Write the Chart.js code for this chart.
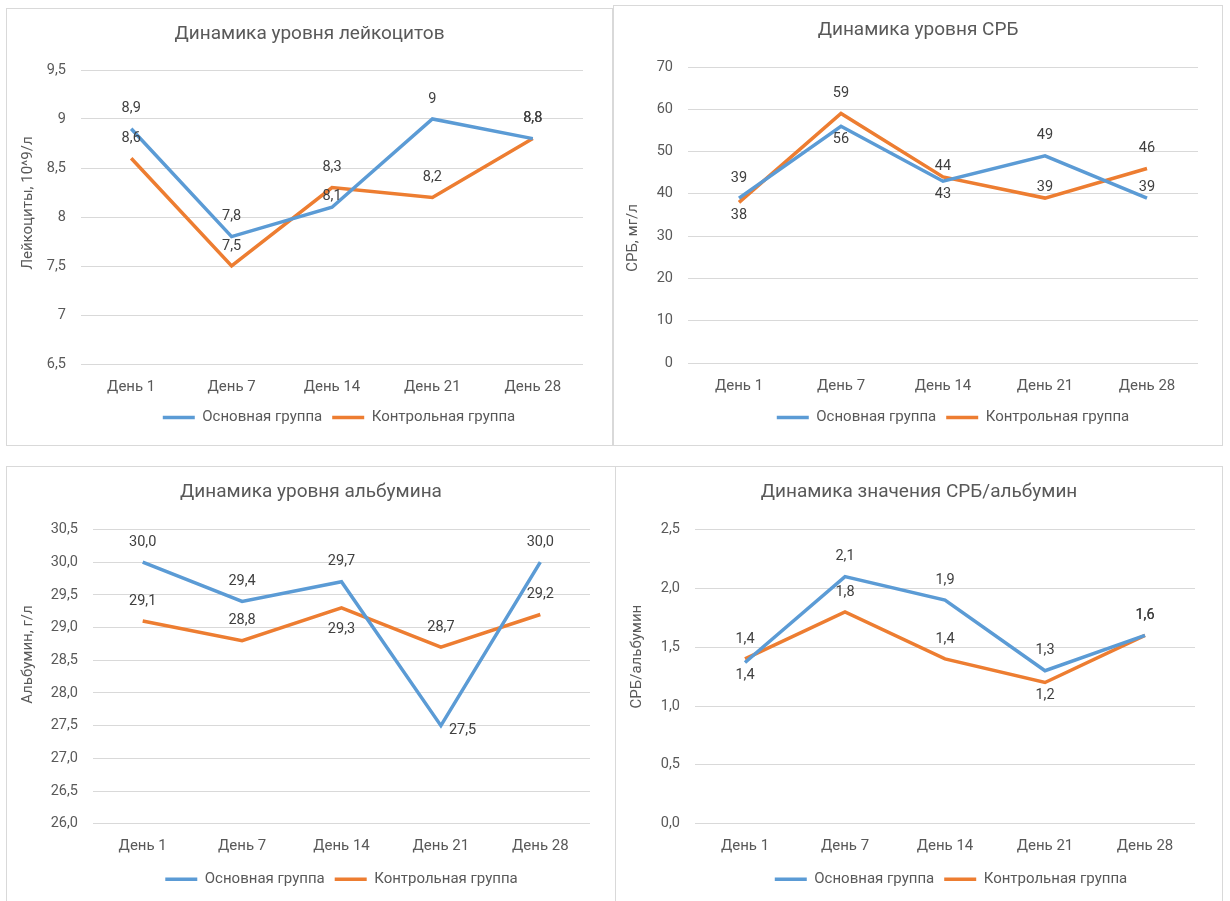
<!DOCTYPE html>
<html>
<head>
<meta charset="utf-8">
<script src="https://cdn.jsdelivr.net/npm/chart.js@4.4.0/dist/chart.umd.min.js"></script>
<style>
  html, body { margin: 0; padding: 0; background: #fff; overflow: hidden; }
  body { width: 1230px; height: 901px; position: relative; }
  .box { position: absolute; box-sizing: border-box; border: 1px solid #d9d9d9; background: #fff; }
  .box canvas { display: block; }
  #box1 { left: 6px; top: 8px; width: 607px; height: 438px; }
  #box2 { left: 613px; top: 5px; width: 610px; height: 441px; }
  #box3 { left: 6px; top: 466px; width: 610px; height: 445px; }
  #box4 { left: 615px; top: 466px; width: 608px; height: 445px; }
</style>
</head>
<body>
<div class="box" id="box1"><canvas id="chart1" width="605" height="436"></canvas></div>
<div class="box" id="box2"><canvas id="chart2" width="608" height="439"></canvas></div>
<div class="box" id="box3"><canvas id="chart3" width="608" height="443"></canvas></div>
<div class="box" id="box4"><canvas id="chart4" width="606" height="443"></canvas></div>
<script>
// Categories
const days = ['День 1', 'День 7', 'День 14', 'День 21', 'День 28'];
const seriesNames = ['Основная группа', 'Контрольная группа'];

// Leukocytes, 10^9/l
const leukoMain = [8.9, 7.8, 8.1, 9, 8.8];
const leukoControl = [8.6, 7.5, 8.3, 8.2, 8.8];
const leukoTicks = [6.5, 9.5, 0.5];

// CRP, mg/l
const crpMain = [39, 56, 43, 49, 39];
const crpControl = [38, 59, 44, 39, 46];
const crpTicks = [0, 70, 10];

// Albumin, g/l
const albMain = [30.0, 29.4, 29.7, 27.5, 30.0];
const albControl = [29.1, 28.8, 29.3, 28.7, 29.2];
const albTicks = [26, 30.5, 0.5];

// CRP / albumin
const ratioMain = [1.37, 2.1, 1.9, 1.3, 1.6];
const ratioControl = [1.4, 1.8, 1.4, 1.2, 1.6];
const ratioTicks = [0, 2.5, 0.5];

const FONT = 'Roboto';
const TEXT = '#595959';
const BLUE = '#5B9BD5';
const ORANGE = '#ED7D31';

function fmt(v, dec) {
  const s = dec == null ? String(v) : v.toFixed(dec);
  return s.replace('.', ',');
}

// data labels next to each point (a = above, n = close above, b = below, r = right)
const valueLabels = {
  id: 'valueLabels',
  afterDatasetsDraw(chart, args, opts) {
    const ctx = chart.ctx;
    ctx.save();
    ctx.font = '14.5px ' + FONT;
    ctx.fillStyle = '#404040';
    ctx.textBaseline = 'middle';
    chart.data.datasets.forEach((ds, di) => {
      const meta = chart.getDatasetMeta(di);
      meta.data.forEach((pt, i) => {
        const place = opts.places[di][i];
        let x = pt.x, y = pt.y;
        ctx.textAlign = 'center';
        if (place === 'a') y -= 20;
        else if (place === 'n') y -= 11;
        else if (place === 'b') y += 13;
        else if (place === 'bb') y += 21;
        else if (place === 'r') { x += 8; y += 5; ctx.textAlign = 'left'; }
        ctx.fillText(fmt(ds.data[i], opts.decimals), x, y);
      });
    });
    ctx.restore();
  }
};

// vertical axis title (sits a bit off the axis middle, like in Excel);
// also centre the chart title on the whole canvas and nudge the legend
const axisTitle = {
  id: 'axisTitle',
  afterLayout(chart, args, opts) {
    const t = chart.titleBlock;
    if (t) { t.left = 0; t.right = chart.width; t.width = chart.width; }
    const lg = chart.legend;
    if (lg) { lg.left += opts.legendShift; lg.right += opts.legendShift; }
  },
  afterDraw(chart, args, opts) {
    const ctx = chart.ctx;
    const area = chart.chartArea;
    ctx.save();
    ctx.translate(opts.x, (area.top + area.bottom) / 2 + opts.shift);
    ctx.rotate(-Math.PI / 2);
    ctx.font = '15px ' + FONT;
    ctx.fillStyle = TEXT;
    ctx.textAlign = 'center';
    ctx.textBaseline = 'middle';
    ctx.fillText(opts.text, 0, 0);
    ctx.restore();
  }
};

function makeChart(id, cfg) {
  const ctx = document.getElementById(id).getContext('2d');
  return new Chart(ctx, {
    type: 'line',
    data: {
      labels: days,
      datasets: [
        { label: seriesNames[0], data: cfg.main, borderColor: BLUE, backgroundColor: BLUE,
          borderWidth: 3.5, pointRadius: 0, tension: 0 },
        { label: seriesNames[1], data: cfg.control, borderColor: ORANGE, backgroundColor: ORANGE,
          borderWidth: 3.5, pointRadius: 0, tension: 0 }
      ]
    },
    options: {
      responsive: false,
      animation: false,
      layout: { padding: { left: 0, right: cfg.padRight, top: 0, bottom: cfg.padBottom } },
      plugins: {
        title: {
          display: true,
          text: cfg.title,
          color: TEXT,
          font: { family: FONT, size: 19, weight: 'normal' },
          padding: { top: cfg.titleTop, bottom: cfg.titleBottom }
        },
        legend: {
          position: 'bottom',
          fullSize: false,
          labels: {
            color: TEXT,
            font: { family: FONT, size: 15 },
            usePointStyle: true,
            pointStyle: 'line',
            pointStyleWidth: 32,
            padding: 10
          }
        },
        tooltip: { enabled: false },
        valueLabels: { places: cfg.places, decimals: cfg.decimals },
        axisTitle: { text: cfg.yTitle, x: cfg.yTitleX, shift: cfg.yTitleShift, legendShift: cfg.legendShift }
      },
      scales: {
        x: {
          offset: true,
          grid: { display: false, drawTicks: false },
          border: { display: false },
          ticks: { color: TEXT, font: { family: FONT, size: 15 }, padding: 14 },
          afterFit: (s) => { s.height = cfg.xHeight; }
        },
        y: {
          min: cfg.ticks[0],
          max: cfg.ticks[1],
          grid: { color: '#d9d9d9', lineWidth: 1, drawTicks: false },
          border: { display: false },
          ticks: {
            stepSize: cfg.ticks[2],
            color: TEXT,
            font: { family: FONT, size: 14.5 },
            padding: 15,
            callback: (v) => fmt(v, cfg.tickDecimals)
          },
          afterFit: (s) => { s.width = cfg.yWidth; }
        }
      }
    },
    plugins: [valueLabels, axisTitle]
  });
}

makeChart('chart1', {
  title: 'Динамика уровня лейкоцитов',
  yTitle: 'Лейкоциты, 10^9/л', yTitleX: 21, yTitleShift: -14,
  main: leukoMain, control: leukoControl, ticks: leukoTicks,
  tickDecimals: null, decimals: null,
  places: [['a', 'a', 'n', 'a', 'a'], ['a', 'a', 'a', 'a', 'a']],
  yWidth: 74, padRight: 29, padBottom: 10, xHeight: 36,
  titleTop: 14.2, titleBottom: 24, legendShift: 7
});

makeChart('chart2', {
  title: 'Динамика уровня СРБ',
  yTitle: 'СРБ, мг/л', yTitleX: 19, yTitleShift: 23,
  main: crpMain, control: crpControl, ticks: crpTicks,
  tickDecimals: 0, decimals: 0,
  places: [['a', 'b', 'b', 'a', 'n'], ['b', 'a', 'n', 'n', 'a']],
  yWidth: 74, padRight: 24, padBottom: 10, xHeight: 37,
  titleTop: 12.7, titleBottom: 25.5, legendShift: 10
});

makeChart('chart3', {
  title: 'Динамика уровня альбумина',
  yTitle: 'Альбумин, г/л', yTitleX: 21, yTitleShift: -22,
  main: albMain, control: albControl, ticks: albTicks,
  tickDecimals: 1, decimals: 1,
  places: [['a', 'a', 'a', 'r', 'a'], ['a', 'a', 'bb', 'a', 'a']],
  yWidth: 86, padRight: 25, padBottom: 13.3, xHeight: 38,
  titleTop: 14.2, titleBottom: 25.5, legendShift: 0
});

makeChart('chart4', {
  title: 'Динамика значения СРБ/альбумин',
  yTitle: 'СРБ/альбумин', yTitleX: 21, yTitleShift: -20,
  main: ratioMain, control: ratioControl, ticks: ratioTicks,
  tickDecimals: 1, decimals: 1,
  places: [['b', 'a', 'a', 'a', 'a'], ['a', 'a', 'a', 'b', 'a']],
  yWidth: 79, padRight: 27, padBottom: 13.3, xHeight: 38,
  titleTop: 14.2, titleBottom: 25.5, legendShift: 6
});
</script>
</body>
</html>
